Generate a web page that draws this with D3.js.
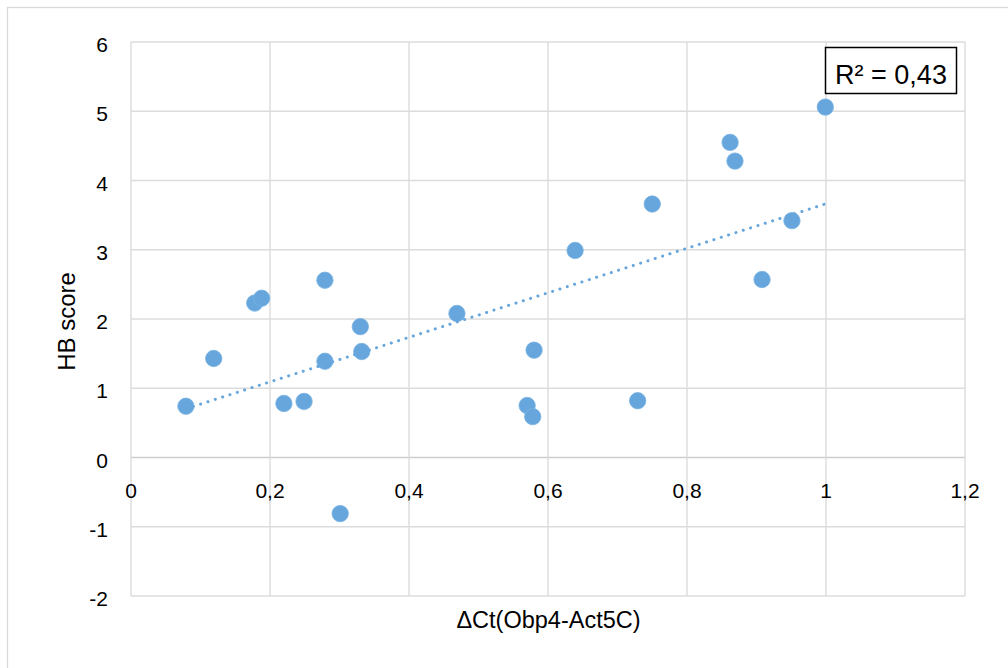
<!DOCTYPE html>
<html>
<head>
<meta charset="utf-8">
<script src="https://cdn.jsdelivr.net/npm/d3@7"></script>
<style>
  html, body { margin: 0; padding: 0; background: #ffffff; }
  svg { display: block; }
</style>
</head>
<body>
<svg id="chart" width="1008" height="668"></svg>
<script>
// ---- data ----
const xValues = [0.079, 0.119, 0.178, 0.188, 0.220, 0.249, 0.279, 0.279, 0.301, 0.330, 0.332,
                 0.469, 0.570, 0.578, 0.580, 0.639, 0.729, 0.750, 0.862, 0.869, 0.908, 0.951, 0.999];
const yValues = [0.74, 1.43, 2.23, 2.30, 0.78, 0.81, 2.56, 1.39, -0.81, 1.89, 1.53,
                 2.08, 0.75, 0.59, 1.55, 2.99, 0.82, 3.66, 4.55, 4.28, 2.57, 3.42, 5.06];
const xTicks = [0, 0.2, 0.4, 0.6, 0.8, 1, 1.2];
const yTicks = [-2, -1, 0, 1, 2, 3, 4, 5, 6];
const xTitle = "ΔCt(Obp4-Act5C)";
const yTitle = "HB score";
const rSquaredLabel = "R² = 0,43";

// ---- layout ----
const svg = d3.select("#chart");
const plotLeft = 131, plotRight = 965, plotTop = 42, plotBottom = 596;
const x = d3.scaleLinear().domain([0, 1.2]).range([plotLeft, plotRight]);
const y = d3.scaleLinear().domain([-2, 6]).range([plotBottom, plotTop]);
const fmt = v => String(+v.toFixed(1)).replace(".", ",");
const blue = "#66a6dc";
const font = "'Liberation Sans', Arial, sans-serif";

// outer chart border
svg.append("rect").attr("x", 7.5).attr("y", 7.5).attr("width", 1020).attr("height", 680)
  .attr("fill", "#fff").attr("stroke", "#d9d9d9").attr("stroke-width", 1.3);

// gridlines
const grid = svg.append("g");
grid.selectAll("line.h").data(yTicks).enter().append("line")
  .attr("x1", plotLeft).attr("x2", plotRight)
  .attr("y1", d => y(d)).attr("y2", d => y(d))
  .attr("stroke", d => d === 0 ? "#cdcdcd" : "#dcdcdc").attr("stroke-width", 1.4);
grid.selectAll("line.v").data(xTicks).enter().append("line")
  .attr("y1", plotTop).attr("y2", plotBottom)
  .attr("x1", d => x(d)).attr("x2", d => x(d))
  .attr("stroke", "#dcdcdc").attr("stroke-width", 1.4);

// y tick labels
svg.append("g").selectAll("text").data(yTicks).enter().append("text")
  .attr("x", plotLeft - 23).attr("y", d => y(d) + 10)
  .attr("text-anchor", "end").attr("font-family", font).attr("font-size", 21)
  .attr("fill", "#000").text(d => fmt(d));

// x tick labels (positioned below the zero line)
svg.append("g").selectAll("text").data(xTicks).enter().append("text")
  .attr("x", d => x(d)).attr("y", y(0) + 40)
  .attr("text-anchor", "middle").attr("font-family", font).attr("font-size", 21)
  .attr("fill", "#000").text(d => fmt(d));

// axis titles
svg.append("text").attr("x", 548.5).attr("y", 628)
  .attr("text-anchor", "middle").attr("font-family", font).attr("font-size", 23.5)
  .attr("fill", "#000").text(xTitle);
svg.append("text").attr("transform", "translate(75,321.5) rotate(-90)")
  .attr("text-anchor", "middle").attr("font-family", font).attr("font-size", 24)
  .attr("fill", "#000").text(yTitle);

// linear trendline (least squares from the data)
const n = xValues.length;
const mx = d3.mean(xValues), my = d3.mean(yValues);
let sxy = 0, sxx = 0;
for (let i = 0; i < n; i++) { sxy += (xValues[i] - mx) * (yValues[i] - my); sxx += (xValues[i] - mx) ** 2; }
const slope = sxy / sxx, intercept = my - slope * mx;
const xMin = d3.min(xValues), xMax = d3.max(xValues);

// points
svg.append("g").selectAll("circle").data(xValues.map((v, i) => [v, yValues[i]])).enter()
  .append("circle")
  .attr("cx", d => x(d[0])).attr("cy", d => y(d[1])).attr("r", 8.2)
  .attr("fill", blue).attr("stroke", "#7ab3e2").attr("stroke-width", 0.8);

svg.append("line")
  .attr("x1", x(xMin)).attr("y1", y(intercept + slope * xMin))
  .attr("x2", x(xMax)).attr("y2", y(intercept + slope * xMax))
  .attr("stroke", blue).attr("stroke-width", 3).attr("stroke-linecap", "round")
  .attr("stroke-dasharray", "0.1 7.6");

// R² label box
svg.append("rect").attr("x", 825.5).attr("y", 47.5).attr("width", 131).attr("height", 46)
  .attr("fill", "#fff").attr("stroke", "#000").attr("stroke-width", 1.5);
svg.append("text").attr("x", 891).attr("y", 84)
  .attr("text-anchor", "middle").attr("font-family", font).attr("font-size", 27)
  .attr("fill", "#000").text(rSquaredLabel);
</script>
</body>
</html>
